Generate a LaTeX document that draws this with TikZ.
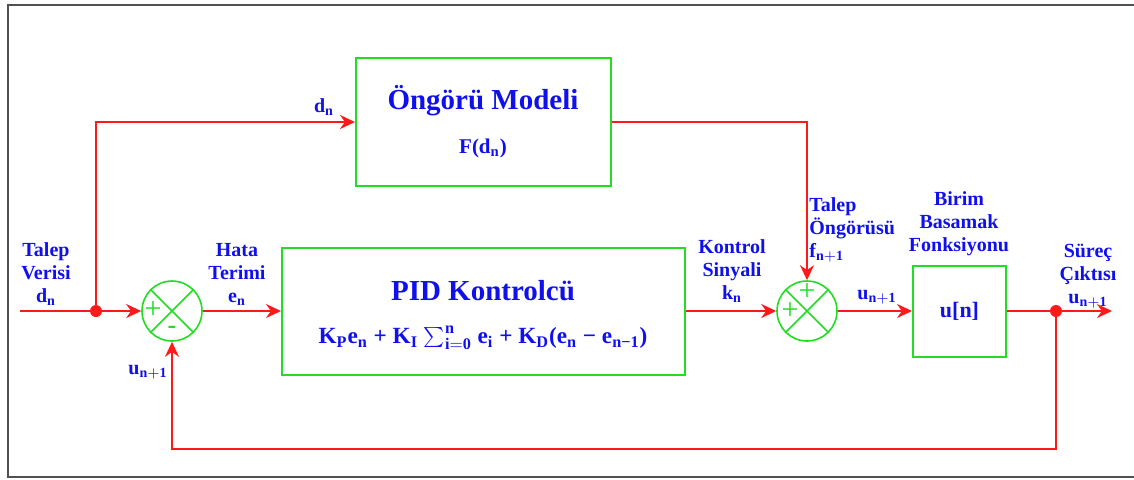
\documentclass[tikz,border=0pt]{standalone}
\usepackage{fontspec}
\setmainfont{Liberation Serif}[BoldFont={Liberation Serif Bold}]
\usetikzlibrary{calc,arrows.meta,positioning}
\definecolor{bd-blue}{HTML}{1010EE}
\definecolor{bd-green}{HTML}{22DD22}
\definecolor{bd-red}{HTML}{FF1A1A}
\definecolor{bd-frame}{HTML}{505050}
\newcommand{\pidlaw}{K\textsubscript{P}e\textsubscript{n} + K\textsubscript{I} $\sum_{\mathbf{i=0}}^{\mathbf{n}}$ e\textsubscript{i} + K\textsubscript{D}(e\textsubscript{n} − e\textsubscript{n−1})}

\begin{document}
\begin{tikzpicture}[x=0.5pt, y=-0.5pt, >={Stealth[length=7.5pt,width=7pt]},
    block/.style={draw=bd-green, line width=1pt, inner sep=0pt},
    sumnode/.style={draw=bd-green, line width=0.8pt, circle, minimum size=30pt, inner sep=0pt},
    wire/.style={draw=bd-red, line width=1pt},
    junction/.style={circle, fill=bd-red, minimum size=6pt, inner sep=0pt},
    lbl/.style={text=bd-blue, font=\bfseries\fontsize{10}{11.5}\selectfont, align=center, inner sep=0pt},
    sign/.style={text=bd-green, font=\fontsize{15}{15}\selectfont, inner sep=0pt}]
    \useasboundingbox (0,0) rectangle (1134,479);
    \draw[bd-frame, line width=1.3pt] (1134,5) -- (8,5) -- (8,477) -- (1134,477);

    \node[block, minimum width=127.5pt, minimum height=64pt] (model) at (483.5,122) {};
    \node[block, minimum width=201.5pt, minimum height=63.5pt] (pid) at (483.5,311) {};
    \node[block, minimum width=46.5pt, minimum height=45.5pt, text=bd-blue, font=\bfseries\fontsize{11}{13}\selectfont] (unit) at (959.5,311) {u[n]};
    \node[sumnode] (s1) at (172,311) {};
    \node[sumnode] (s2) at (807,311) {};
    \draw[bd-green, line width=0.8pt] (s1.north west) -- (s1.south east) (s1.north east) -- (s1.south west);
    \draw[bd-green, line width=0.8pt] (s2.north west) -- (s2.south east) (s2.north east) -- (s2.south west);
    \node[sign] (s1a) at ($(s1)+(-19,-1)$) {+};
    \node[sign, font=\bfseries\fontsize{13}{13}\selectfont] (s1b) at ($(s1)+(0,19)$) {-};
    \node[sign] (s2a) at ($(s2)+(0,-19)$) {+};
    \node[sign] (s2b) at ($(s2)+(-17,0)$) {+};

    \node[lbl, font=\bfseries\fontsize{14.5}{17}\selectfont] (mtitle) at (483,101) {Öngörü Modeli};
    \node[lbl, font=\bfseries\fontsize{10.5}{12}\selectfont] (mfunc) at (483,148) {F($\mathbf{d_n}$)};
    \node[lbl, font=\bfseries\fontsize{14.5}{17}\selectfont] (ptitle) at (483,291) {PID Kontrolcü};
    \node[lbl, font=\bfseries\fontsize{11.6}{13}\selectfont] (pfunc) at (483,338) {\pidlaw};

    \coordinate (in) at (20,311);
    \node[junction] (indot) at (96,311) {};
    \node[junction] (outdot) at (1056,311) {};
    \coordinate (out) at (1112,311);
    \coordinate (fb) at (172,449);
    \draw[wire] (in) -- (indot);
    \draw[wire,->] (indot) -- (s1);
    \draw[wire,->] (indot) |- (model);
    \draw[wire,->] (s1) -- (pid);
    \draw[wire,->] (pid) -- (s2);
    \draw[wire,->] (model) -| (s2);
    \draw[wire,->] (s2) -- (unit);
    \draw[wire] (unit) -- (outdot);
    \draw[wire,->] (outdot) -- (out);
    \draw[wire,->] (outdot) |- (fb) -- (s1);

    \node[lbl] (talep) at (46,274) {Talep\\Verisi\\$\mathbf{d_n}$};
    \node[lbl] (hata) at (237,274) {Hata\\Terimi\\$\mathbf{e_n}$};
    \node[lbl] (fblabel) at (148,372) {$\mathbf{u_{n+1}}$};
    \node[lbl] (fflabel) at (324,107) {$\mathbf{d_n}$};
    \node[lbl] (kontrol) at (732,271) {Kontrol\\Sinyali\\$\mathbf{k_n}$};
    \node[lbl, align=left, anchor=west] (ongoru) at (809,230) {Talep\\Öngörüsü\\$\mathbf{f_{n+1}}$};
    \node[lbl] (birim) at (959,224) {Birim\\Basamak\\Fonksiyonu};
    \node[lbl] (ulabel) at (877,297) {$\mathbf{u_{n+1}}$};
    \node[lbl] (surec) at (1088,276) {Süreç\\Çıktısı\\$\mathbf{u_{n+1}}$};
\end{tikzpicture}
\end{document}
